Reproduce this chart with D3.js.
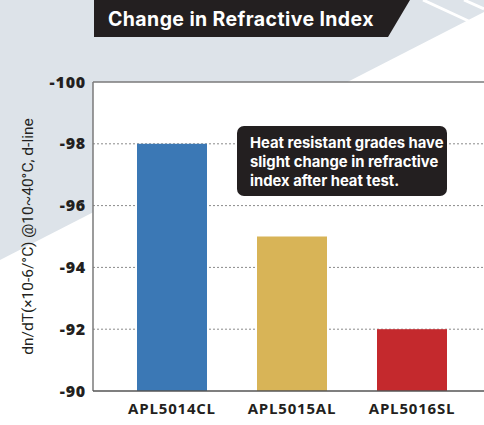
<!DOCTYPE html>
<html>
<head>
<meta charset="utf-8">
<script src="https://cdn.jsdelivr.net/npm/d3@7"></script>
<style>
  body { margin: 0; background: #fff; }
  svg { display: block; font-family: Roboto, "Open Sans", sans-serif; }
</style>
</head>
<body>
<svg id="chart"></svg>
<script>
// chart values
const grades = ['APL5014CL', 'APL5015AL', 'APL5016SL'];
const dnDT = [-98, -95, -92];
const barColors = ['#3b78b5', '#d8b457', '#c4292d'];
const yTicks = [-100, -98, -96, -94, -92, -90];
const noteLines = ['Heat resistant grades have', 'slight change in refractive', 'index after heat test.'];

const W = 484, H = 425;
const margin = {top: 82, right: 0, bottom: 34, left: 93};

const svg = d3.select('#chart')
    .attr('width', W)
    .attr('height', H);

// backdrop: pale slanted panel + thin white stripes
svg.append('rect').attr('width', W).attr('height', H).attr('fill', '#fff');
svg.append('path')
    .attr('d', `M0,0 L${W},0 L${W},12 L0,260 Z`)
    .attr('fill', '#dde3e9');
svg.append('path')
    .attr('d', 'M423,0 L475,24 M464,0 L484,9')
    .attr('stroke', '#fff')
    .attr('stroke-width', 3);

// title banner
svg.append('path')
    .attr('d', 'M94,0 L410,0 L388,37 L94,37 Z')
    .attr('fill', '#231f20');
svg.append('text')
    .attr('x', 108)
    .attr('y', 26)
    .attr('fill', '#fff')
    .style('font-family', 'Inter, sans-serif')
    .style('font-size', '19.5px')
    .style('font-weight', 700)
    .style('letter-spacing', '0.4px')
    .text('Change in Refractive Index');

// plot area
const yScale = d3.scaleLinear()
    .domain([-100, -90])
    .range([margin.top, H - margin.bottom]);

const xScale = d3.scaleBand()
    .domain(grades)
    .range([112, 472])
    .paddingInner(50 / 120)
    .paddingOuter(25 / 120);

svg.append('rect')
    .attr('x', margin.left)
    .attr('y', margin.top)
    .attr('width', W - margin.left)
    .attr('height', yScale(-90) - margin.top)
    .attr('fill', '#fff');

// dotted grid lines
svg.append('g')
    .selectAll('line')
    .data(yTicks.filter(d => d !== -100 && d !== -90))
    .join('line')
    .attr('x1', margin.left)
    .attr('x2', W)
    .attr('y1', d => yScale(d))
    .attr('y2', d => yScale(d))
    .attr('stroke', '#8a8a8a')
    .attr('stroke-width', 1)
    .attr('stroke-dasharray', '2,2');

// bars
svg.append('g')
    .selectAll('rect')
    .data(grades)
    .join('rect')
    .attr('x', d => xScale(d))
    .attr('y', (d, i) => yScale(dnDT[i]))
    .attr('width', xScale.bandwidth())
    .attr('height', (d, i) => yScale(-90) - yScale(dnDT[i]))
    .attr('fill', (d, i) => barColors[i]);

// frame lines
svg.append('line')
    .attr('x1', margin.left).attr('x2', W)
    .attr('y1', margin.top).attr('y2', margin.top)
    .attr('stroke', '#7a7a7a').attr('stroke-width', 1.5);
svg.append('line')
    .attr('x1', margin.left).attr('x2', margin.left)
    .attr('y1', margin.top).attr('y2', yScale(-90))
    .attr('stroke', '#7a7a7a').attr('stroke-width', 1.5);

// axes
const yAxis = d3.axisLeft(yScale)
    .tickValues(yTicks)
    .tickSize(0)
    .tickFormat(d => '-' + Math.abs(d))
    .tickPadding(7);
const yAxisG = svg.append('g')
    .attr('transform', `translate(${margin.left},0)`)
    .call(yAxis);
yAxisG.select('.domain').remove();
yAxisG.selectAll('text')
    .attr('fill', '#231f20')
    .style('font-family', '"Open Sans", sans-serif')
    .style('font-size', '16px')
    .style('font-weight', 800)
    .style('letter-spacing', '0.8px');

const xAxis = d3.axisBottom(xScale)
    .tickSize(0)
    .tickPadding(12);
const xAxisG = svg.append('g')
    .attr('transform', `translate(0,${yScale(-90)})`)
    .call(xAxis);
xAxisG.select('.domain').remove();
xAxisG.selectAll('text')
    .attr('fill', '#231f20')
    .style('font-family', '"Open Sans", sans-serif')
    .style('font-size', '15px')
    .style('font-weight', 700)
    .style('letter-spacing', '0.8px');
svg.append('line')
    .attr('x1', margin.left).attr('x2', W)
    .attr('y1', yScale(-90)).attr('y2', yScale(-90))
    .attr('stroke', '#555').attr('stroke-width', 1.5);

// y axis title
svg.append('text')
    .attr('transform', `translate(33,${(margin.top + yScale(-90)) / 2}) rotate(-90)`)
    .attr('text-anchor', 'middle')
    .attr('fill', '#231f20')
    .style('font-size', '15.5px')
    .text('dn/dT(×10-6/°C) @10~40°C, d-line');

// annotation box
const note = svg.append('g');
note.append('rect')
    .attr('x', 237)
    .attr('y', 126)
    .attr('width', 210)
    .attr('height', 70)
    .attr('rx', 7)
    .attr('fill', '#231f20');
note.selectAll('text')
    .data(noteLines)
    .join('text')
    .attr('x', 250)
    .attr('y', (d, i) => 148 + i * 19)
    .attr('fill', '#fff')
    .style('font-family', 'Inter, sans-serif')
    .style('font-size', '14.8px')
    .style('font-weight', 700)
    .text(d => d);
</script>
</body>
</html>
